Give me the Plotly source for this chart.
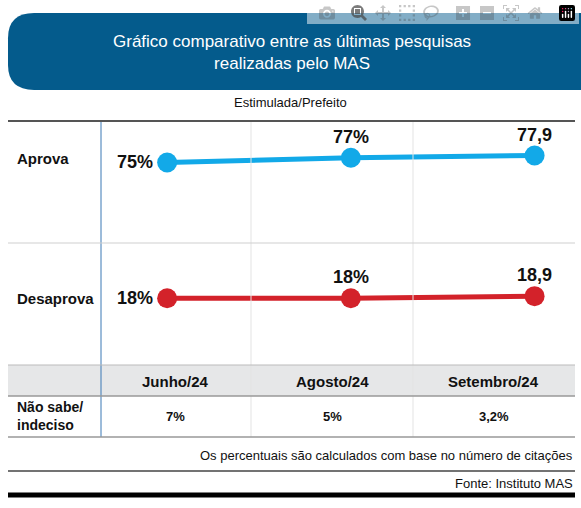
import plotly.graph_objects as go

W, H = 581, 508

meses = ["Junho/24", "Agosto/24", "Setembro/24"]
aprova = [75, 77, 77.9]
desaprova = [18, 18, 18.9]
aprova_txt = ["75%", "77%", "77,9"]
desaprova_txt = ["18%", "18%", "18,9"]
nao_sabe = ["7%", "5%", "3,2%"]

def px(x):
    return x / W

def py(y):
    return 1 - y / H

fig = go.Figure()
fig.add_trace(go.Scatter(x=[0, 1, 2], y=aprova, mode="lines+markers",
                         line=dict(color="#12a9e8", width=5),
                         marker=dict(size=20, color="#12a9e8")))
fig.add_trace(go.Scatter(x=[0, 1, 2], y=desaprova, mode="lines+markers",
                         line=dict(color="#d3222a", width=5),
                         marker=dict(size=20, color="#d3222a")))

# point labels
for i, (a, d) in enumerate(zip(aprova, desaprova)):
    if i == 0:
        kw = dict(xanchor="right", yanchor="middle", xshift=-12, yshift=0)
    else:
        kw = dict(xanchor="center", yanchor="bottom", yshift=9)
    fig.add_annotation(x=i, y=a, text=f"<b>{aprova_txt[i]}</b>", showarrow=False,
                       font=dict(size=18, color="#111"), **kw)
    fig.add_annotation(x=i, y=d, text=f"<b>{desaprova_txt[i]}</b>", showarrow=False,
                       font=dict(size=18, color="#111"), **kw)

shapes = []
# banner
x0, x1, y0, y1, r = px(8), px(581), py(90), py(13), 0.045
shapes.append(dict(type="path", xref="paper", yref="paper",
                   path=f"M {x1},{y1} L {x0+r},{y1} Q {x0},{y1} {x0},{y1-r*1.1} "
                        f"L {x0},{y0+r*1.1} Q {x0},{y0} {x0+r},{y0} L {x1},{y0} Z",
                   fillcolor="#045b8c", line=dict(width=0)))
# header row band
shapes.append(dict(type="rect", xref="paper", yref="paper", x0=px(8), x1=px(575),
                   y0=py(396), y1=py(365), fillcolor="#e6e7e8", line=dict(width=0), layer="below"))

def hline(y, color, w, xa=8, xb=575):
    shapes.append(dict(type="line", xref="paper", yref="paper", x0=px(xa), x1=px(xb),
                       y0=py(y), y1=py(y), line=dict(color=color, width=w)))

def vline(x, ya, yb, color, w):
    shapes.append(dict(type="line", xref="paper", yref="paper", x0=px(x), x1=px(x),
                       y0=py(ya), y1=py(yb), line=dict(color=color, width=w)))

vline(251, 121, 437, "#e3e3e3", 1)
vline(413, 121, 437, "#e3e3e3", 1)
vline(101, 121, 437, "#3a78b5", 1)
hline(121, "#555", 2)
hline(243, "#cfcfcf", 1)
hline(365, "#bbb", 1)
hline(396, "#999", 1.5)
hline(437, "#999", 1.5)
hline(471, "#444", 1.5)
hline(495, "#000", 5)

ann = [
    dict(x=px(292), y=py(52), text="Gráfico comparativo entre as últimas pesquisas<br>realizadas pelo MAS",
         font=dict(size=17, color="white")),
    dict(x=px(290), y=py(103), text="Estimulada/Prefeito", font=dict(size=13, color="#111")),
    dict(x=px(15), y=py(158), text="<b>Aprova</b>", xanchor="left", font=dict(size=15, color="#111")),
    dict(x=px(15), y=py(298), text="<b>Desaprova</b>", xanchor="left", font=dict(size=15, color="#111")),
    dict(x=px(15), y=py(416), text="<b>Não sabe/<br>indeciso</b>", xanchor="left", align="left",
         font=dict(size=14, color="#111")),
    dict(x=px(575), y=py(455), text="Os percentuais são calculados com base no número de citações",
         xanchor="right", font=dict(size=13, color="#111")),
    dict(x=px(575), y=py(483), text="Fonte: Instituto MAS", xanchor="right",
         font=dict(size=13, color="#111")),
]
centros = [175, 332, 494]
for c, m, n in zip(centros, meses, nao_sabe):
    ann.append(dict(x=px(c), y=py(381), text=f"<b>{m}</b>", font=dict(size=15, color="#111")))
    ann.append(dict(x=px(c), y=py(416), text=f"<b>{n}</b>", font=dict(size=13, color="#111")))
for a in ann:
    a.setdefault("xanchor", "center")
    fig.add_annotation(xref="paper", yref="paper", showarrow=False, yanchor="middle", **a)

fig.update_layout(
    width=W, height=H, margin=dict(l=0, r=0, t=0, b=0),
    paper_bgcolor="white", plot_bgcolor="rgba(0,0,0,0)",
    showlegend=False, shapes=shapes,
    font=dict(family="Liberation Sans, Arial, sans-serif"),
    xaxis=dict(domain=[px(101), px(575)], range=[-0.36, 2.22], visible=False),
    yaxis=dict(domain=[py(365), py(121)], range=[-10, 92.4], visible=False),
)

fig.write_html("out.html", post_script="document.body.style.margin='0';")
